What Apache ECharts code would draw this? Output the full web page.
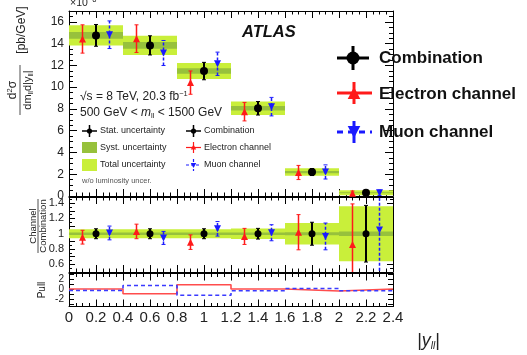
<!DOCTYPE html>
<html>
<head>
<meta charset="utf-8">
<script src="https://cdn.jsdelivr.net/npm/echarts@6/dist/echarts.min.js"></script>
<style>
  html, body { margin: 0; padding: 0; background: #fff; }
  #chart { width: 527px; height: 355px; }
</style>
</head>
<body>
<div id="chart"></div>
<script>
// |y_ll| bins
const binEdges = [0, 0.4, 0.8, 1.2, 1.6, 2.0, 2.4];
const binCenters = [0.2, 0.6, 1.0, 1.4, 1.8, 2.2];
const channelShift = 0.1; // electron drawn left of the bin centre, muon right

// Upper panel: d2sigma/dm d|y| in units of 1e-6 pb/GeV
const combValue = [14.76, 13.84, 11.48, 8.06, 2.2, 0.3];
const combErr = [1.0, 0.88, 0.8, 0.62, 0.32, 0.1];
const totalUnc = [0.92, 0.88, 0.74, 0.62, 0.35, 0.22];
const systUnc = [0.3, 0.3, 0.25, 0.2, 0.1, 0.05];
const elecValue = [14.43, 14.46, 10.42, 7.75, 2.16, 0.26];
const elecErr = [1.3, 1.27, 1.07, 0.85, 0.65, 0.2];
const muonValue = [14.82, 13.14, 12.15, 8.21, 2.21, 0.3];
const muonErr = [1.27, 1.15, 1.07, 0.85, 0.65, 0.25];

// Middle panel: channel / combination
const ratioElec = [0.955, 1.03, 0.89, 0.965, 1.02, 0.86];
const ratioElecErr = [0.09, 0.095, 0.095, 0.105, 0.23, 0.53];
const ratioMuon = [1.01, 0.945, 1.064, 1.013, 0.965, 1.05];
const ratioMuonErr = [0.09, 0.085, 0.095, 0.105, 0.175, 0.6];
const ratioCombErr = [0.065, 0.065, 0.065, 0.07, 0.15, 0.37];
const ratioTotalUnc = [0.058, 0.058, 0.06, 0.07, 0.14, 0.36];
const ratioSystUnc = [0.015, 0.015, 0.015, 0.015, 0.02, 0.03];

// Lower panel: pulls per bin
const pullElec = [0.1, -0.85, 0.95, 0.1, -0.3, 0.1];
const pullMuon = [-0.2, 0.8, -1.15, -0.25, 0.2, -0.25];

// Axis labels
const pullTickLabels = [-2, 0, 2];
const pullTicks = [-3, -2, -1, 0, 1, 2, 3];

const FONT = 'Liberation Sans, Arial, Helvetica, sans-serif';
const TOTAL_COLOR = '#c9ef3a';
const SYST_COLOR = '#97c13c';
const RED = '#ff1a1a';
const BLUE = '#1a1aff';

const chart = echarts.init(document.getElementById('chart'), null, { renderer: 'canvas' });

const gridDefs = [
  { left: 69, width: 324, top: 11, height: 185 },
  { left: 69, width: 324, top: 197, height: 75 },
  { left: 69, width: 324, top: 273.5, height: 33 }
];

function tickStyle(len) {
  return { show: true, inside: true, length: len, lineStyle: { color: '#000', width: 1 } };
}

// each panel owns a bottom/top x axis and a left/right y axis
function xAxisPair(gridIndex, showLabels) {
  const base = {
    type: 'value', gridIndex, min: 0, max: 2.4, interval: 0.2,
    axisLine: { show: true, onZero: false, lineStyle: { color: '#000', width: 1 } },
    axisTick: tickStyle(7),
    minorTick: { show: true, splitNumber: 4, length: 3.5, lineStyle: { color: '#000', width: 1 } },
    splitLine: { show: false },
    minorSplitLine: { show: false }
  };
  return [
    Object.assign({}, base, {
      position: 'bottom',
      axisLabel: showLabels ? {
        show: true, margin: 4, fontSize: 15, color: '#222', fontFamily: FONT,
        formatter: v => String(+v.toFixed(1))
      } : { show: false }
    }),
    Object.assign({}, base, { position: 'top', axisLabel: { show: false } })
  ];
}

function yAxisPair(gridIndex, opts) {
  const base = Object.assign({
    type: 'value', gridIndex,
    axisLine: { show: true, onZero: false, lineStyle: { color: '#000', width: 1 } },
    splitLine: { show: false },
    minorSplitLine: { show: false }
  }, opts.common);
  return [
    Object.assign({}, base, { position: 'left', axisLabel: opts.label }),
    Object.assign({}, base, { position: 'right', axisLabel: { show: false } })
  ];
}

const xAxes = [].concat(xAxisPair(0, false), xAxisPair(1, false), xAxisPair(2, true));
const yAxes = [].concat(
  yAxisPair(0, {
    common: {
      min: 0, max: 17, interval: 2,
      axisTick: tickStyle(8),
      minorTick: { show: true, splitNumber: 4, length: 4, lineStyle: { color: '#000' } }
    },
    label: {
      show: true, margin: 5, fontSize: 12, color: '#222', fontFamily: FONT,
      formatter: v => (v % 2 === 0 && v <= 16) ? String(v) : ''
    }
  }),
  yAxisPair(1, {
    common: {
      min: 0.5, max: 1.48, interval: 0.1,
      axisTick: tickStyle(6),
      minorTick: { show: true, splitNumber: 2, length: 3, lineStyle: { color: '#000' } }
    },
    label: {
      show: true, margin: 5, fontSize: 11, color: '#222', fontFamily: FONT,
      formatter: v => {
        const k = Math.round(v * 10);
        return (Math.abs(v * 10 - k) < 1e-6 && k % 2 === 0 && k >= 6 && k <= 14) ? String(+v.toFixed(1)) : '';
      }
    }
  }),
  yAxisPair(2, {
    common: {
      min: -3.4, max: 3.2,
      axisTick: Object.assign(tickStyle(5), { customValues: pullTicks }),
      minorTick: { show: false }
    },
    label: {
      show: true, margin: 5, fontSize: 10, color: '#222', fontFamily: FONT,
      customValues: pullTickLabels
    }
  })
);

// panel p is drawn on x/y axes with index 2*p
function axisRefs(panel) {
  return { xAxisIndex: 2 * panel, yAxisIndex: 2 * panel };
}

// Shaded uncertainty boxes per bin
function bandSeries(name, panel, centers, half, color, z) {
  return Object.assign({
    type: 'custom', name, z, clip: true, silent: true,
    data: centers.map((c, i) => [binEdges[i], binEdges[i + 1], c - half[i], c + half[i]]),
    renderItem(params, api) {
      const a = api.coord([api.value(0), api.value(3)]);
      const b = api.coord([api.value(1), api.value(2)]);
      return {
        type: 'rect',
        shape: { x: a[0], y: a[1], width: b[0] - a[0], height: b[1] - a[1] },
        style: { fill: color }
      };
    }
  }, axisRefs(panel));
}

// Vertical error bars with short end caps
function errorSeries(name, panel, xs, ys, errs, color, width, dashed) {
  return Object.assign({
    type: 'custom', name, z: 5, clip: true, silent: true,
    data: xs.map((x, i) => [x, ys[i] - errs[i], ys[i] + errs[i]]),
    renderItem(params, api) {
      const lo = api.coord([api.value(0), api.value(1)]);
      const hi = api.coord([api.value(0), api.value(2)]);
      const line = { stroke: color, lineWidth: width, lineDash: dashed ? [3, 2] : null };
      const cap = { stroke: color, lineWidth: 1 };
      return {
        type: 'group',
        children: [
          { type: 'line', shape: { x1: lo[0], y1: lo[1], x2: hi[0], y2: hi[1] }, style: line },
          { type: 'line', shape: { x1: lo[0] - 2, y1: lo[1], x2: lo[0] + 2, y2: lo[1] }, style: cap },
          { type: 'line', shape: { x1: hi[0] - 2, y1: hi[1], x2: hi[0] + 2, y2: hi[1] }, style: cap }
        ]
      };
    }
  }, axisRefs(panel));
}

function markerSeries(name, panel, xs, ys, symbol, size, color, rotate) {
  return Object.assign({
    type: 'scatter', name, z: 6, silent: true,
    symbol, symbolSize: size, symbolRotate: rotate || 0,
    itemStyle: { color, opacity: 1 },
    data: xs.map((x, i) => [x, ys[i]])
  }, axisRefs(panel));
}

const elecX = binCenters.map(c => c - channelShift);
const muonX = binCenters.map(c => c + channelShift);
const ones = binCenters.map(() => 1);

function stepData(values) {
  const pts = values.map((v, i) => [binEdges[i], v]);
  pts.push([binEdges[binEdges.length - 1], values[values.length - 1]]);
  return pts;
}

const series = [
  // upper panel
  bandSeries('Total uncertainty', 0, combValue, totalUnc, TOTAL_COLOR, 1),
  bandSeries('Syst. uncertainty', 0, combValue, systUnc, SYST_COLOR, 2),
  errorSeries('Combination err', 0, binCenters, combValue, combErr, '#000', 2, false),
  errorSeries('Electron err', 0, elecX, elecValue, elecErr, RED, 1.5, false),
  errorSeries('Muon err', 0, muonX, muonValue, muonErr, BLUE, 1.5, true),
  markerSeries('Combination', 0, binCenters, combValue, 'circle', 8, '#000'),
  markerSeries('Electron channel', 0, elecX, elecValue, 'triangle', 7, RED),
  markerSeries('Muon channel', 0, muonX, muonValue, 'triangle', 7, BLUE, 180),
  // ratio panel
  bandSeries('Total uncertainty ratio', 1, ones, ratioTotalUnc, TOTAL_COLOR, 1),
  bandSeries('Syst. uncertainty ratio', 1, ones, ratioSystUnc, SYST_COLOR, 2),
  errorSeries('Combination ratio err', 1, binCenters, ones, ratioCombErr, '#000', 2, false),
  errorSeries('Electron ratio err', 1, elecX, ratioElec, ratioElecErr, RED, 1.5, false),
  errorSeries('Muon ratio err', 1, muonX, ratioMuon, ratioMuonErr, BLUE, 1.5, true),
  markerSeries('Combination ratio', 1, binCenters, ones, 'circle', 7, '#000'),
  markerSeries('Electron ratio', 1, elecX, ratioElec, 'triangle', 7, RED),
  markerSeries('Muon ratio', 1, muonX, ratioMuon, 'triangle', 7, BLUE, 180),
  // pull panel
  Object.assign({
    type: 'line', name: 'Electron pull', step: 'end',
    symbol: 'none', silent: true, z: 4,
    lineStyle: { color: '#ff4d4d', width: 1.6 },
    data: stepData(pullElec)
  }, axisRefs(2)),
  Object.assign({
    type: 'line', name: 'Muon pull', step: 'end',
    symbol: 'none', silent: true, z: 5,
    lineStyle: { color: '#3a3aff', width: 1.6, type: [4, 3] },
    data: stepData(pullMuon)
  }, axisRefs(2))
];

// Helpers for legend glyphs and annotations
function txt(x, y, text, size, extra) {
  return {
    type: 'text', x, y, silent: true, z: 20,
    style: Object.assign({
      text, fontSize: size, fontFamily: FONT, fill: '#222',
      align: 'left', verticalAlign: 'middle'
    }, extra || {})
  };
}
function seg(x1, y1, x2, y2, color, w, dash) {
  return { type: 'line', silent: true, z: 20, shape: { x1, y1, x2, y2 },
    style: { stroke: color, lineWidth: w, lineDash: dash || null } };
}
function tri(cx, cy, r, color, down) {
  const s = down ? -1 : 1;
  return { type: 'polygon', silent: true, z: 21,
    shape: { points: [[cx, cy - s * r], [cx - r * 0.9, cy + s * r * 0.7], [cx + r * 0.9, cy + s * r * 0.7]] },
    style: { fill: color } };
}
function dot(cx, cy, r, color) {
  return { type: 'circle', silent: true, z: 21, shape: { cx, cy, r }, style: { fill: color } };
}
function box(x, y, w, h, color) {
  return { type: 'rect', silent: true, z: 20, shape: { x, y, width: w, height: h }, style: { fill: color } };
}

const subRich = {
  sub: { fontSize: 7.5, fontFamily: FONT, fill: '#222', padding: [6, 0, 0, 0] },
  sup: { fontSize: 7.5, fontFamily: FONT, fill: '#222', padding: [0, 0, 6, 0] }
};

const graphics = [
  // exponent of the upper axis
  txt(70, 3, '×10{sup|−6}', 10.5, { rich: subRich, verticalAlign: 'middle' }),
  // ATLAS label and run conditions
  txt(242, 32, 'ATLAS', 16.5, { fontWeight: 'bold', fontStyle: 'italic', fill: '#111' }),
  txt(80, 97, '√s = 8 TeV, 20.3 fb{sup|−1}', 12, { rich: subRich }),
  txt(80, 113, '500 GeV < {it|m}{sub|ll} < 1500 GeV', 12,
    { rich: Object.assign({ it: { fontSize: 12, fontStyle: 'italic', fontFamily: FONT, fill: '#222' } }, subRich) }),

  // inner legend, left column
  seg(82, 131, 97, 131, '#000', 1.5), seg(89.5, 125, 89.5, 137, '#000', 1.5), dot(89.5, 131, 2.6, '#000'),
  txt(100, 131, 'Stat. uncertainty', 9),
  box(82, 142, 15, 11, SYST_COLOR),
  txt(100, 147.5, 'Syst. uncertainty', 9),
  box(82, 159, 15, 12, TOTAL_COLOR),
  txt(100, 165, 'Total uncertainty', 9),
  txt(82, 181, 'w/o luminosity uncer.', 7.5, { fill: '#555' }),
  // inner legend, right column
  seg(186, 131, 201, 131, '#000', 1.5), seg(193.5, 125, 193.5, 137, '#000', 1.5), dot(193.5, 131, 2.6, '#000'),
  txt(204, 131, 'Combination', 9),
  seg(186, 147.5, 201, 147.5, RED, 1.2), seg(193.5, 142, 193.5, 153, RED, 1.2), tri(193.5, 147.5, 3, RED, false),
  txt(204, 147.5, 'Electron channel', 9),
  seg(186, 165, 201, 165, BLUE, 1.2, [3, 2]), seg(193.5, 159, 193.5, 171, BLUE, 1.2, [3, 2]), tri(193.5, 165, 3, BLUE, true),
  txt(204, 165, 'Muon channel', 9),

  // outer legend
  seg(337, 58, 369, 58, '#000', 3), seg(353, 46, 353, 70, '#000', 3), dot(353, 58, 6.5, '#000'),
  txt(379, 58, 'Combination', 17, { fontWeight: 'bold', fill: '#111' }),
  seg(337, 93, 372, 93, RED, 3), seg(354, 82, 354, 104, RED, 3), tri(354, 94, 7, RED, false),
  txt(379, 94, 'Electron channel', 17, { fontWeight: 'bold', fill: '#111' }),
  seg(337, 132, 372, 132, BLUE, 3, [6, 5]), seg(354, 121, 354, 143, BLUE, 3), tri(354, 131, 7, BLUE, true),
  txt(379, 132, 'Muon channel', 17, { fontWeight: 'bold', fill: '#111' }),

  // x-axis title
  txt(417, 341, '|y{xsub|ll}|', 18, {
    fill: '#222', fontStyle: 'italic',
    rich: { xsub: { fontSize: 10, fontFamily: FONT, fill: '#222', fontStyle: 'italic', padding: [10, 0, 0, 0] } }
  }),

  // y-axis title of the upper panel (rotated fraction)
  {
    type: 'group', x: 20, y: 90, rotation: Math.PI / 2, silent: true, z: 20,
    children: [
      txt(0, -7, 'd{sup|2}σ', 12, { align: 'center', rich: subRich }),
      seg(-25, 0, 25, 0, '#222', 0.8),
      txt(0, 8, 'dm{sub|ll}d|y{sub|ll}|', 11, { align: 'center', rich: subRich }),
      txt(60, 2, '[pb/GeV]', 12, { align: 'center' })
    ]
  },
  // y-axis title of the ratio panel
  {
    type: 'group', x: 38, y: 226, rotation: Math.PI / 2, silent: true, z: 20,
    children: [
      txt(0, -4.5, 'Channel', 9.5, { align: 'center' }),
      seg(-27, 0, 27, 0, '#222', 0.8),
      txt(0, 5, 'Combination', 9.5, { align: 'center' })
    ]
  },
  // y-axis title of the pull panel
  {
    type: 'group', x: 42, y: 290, rotation: Math.PI / 2, silent: true, z: 20,
    children: [txt(0, 0, 'Pull', 10, { align: 'center' })]
  }
];

chart.setOption({
  animation: false,
  backgroundColor: '#fff',
  grid: gridDefs,
  xAxis: xAxes,
  yAxis: yAxes,
  series,
  graphic: graphics
});
</script>
</body>
</html>
